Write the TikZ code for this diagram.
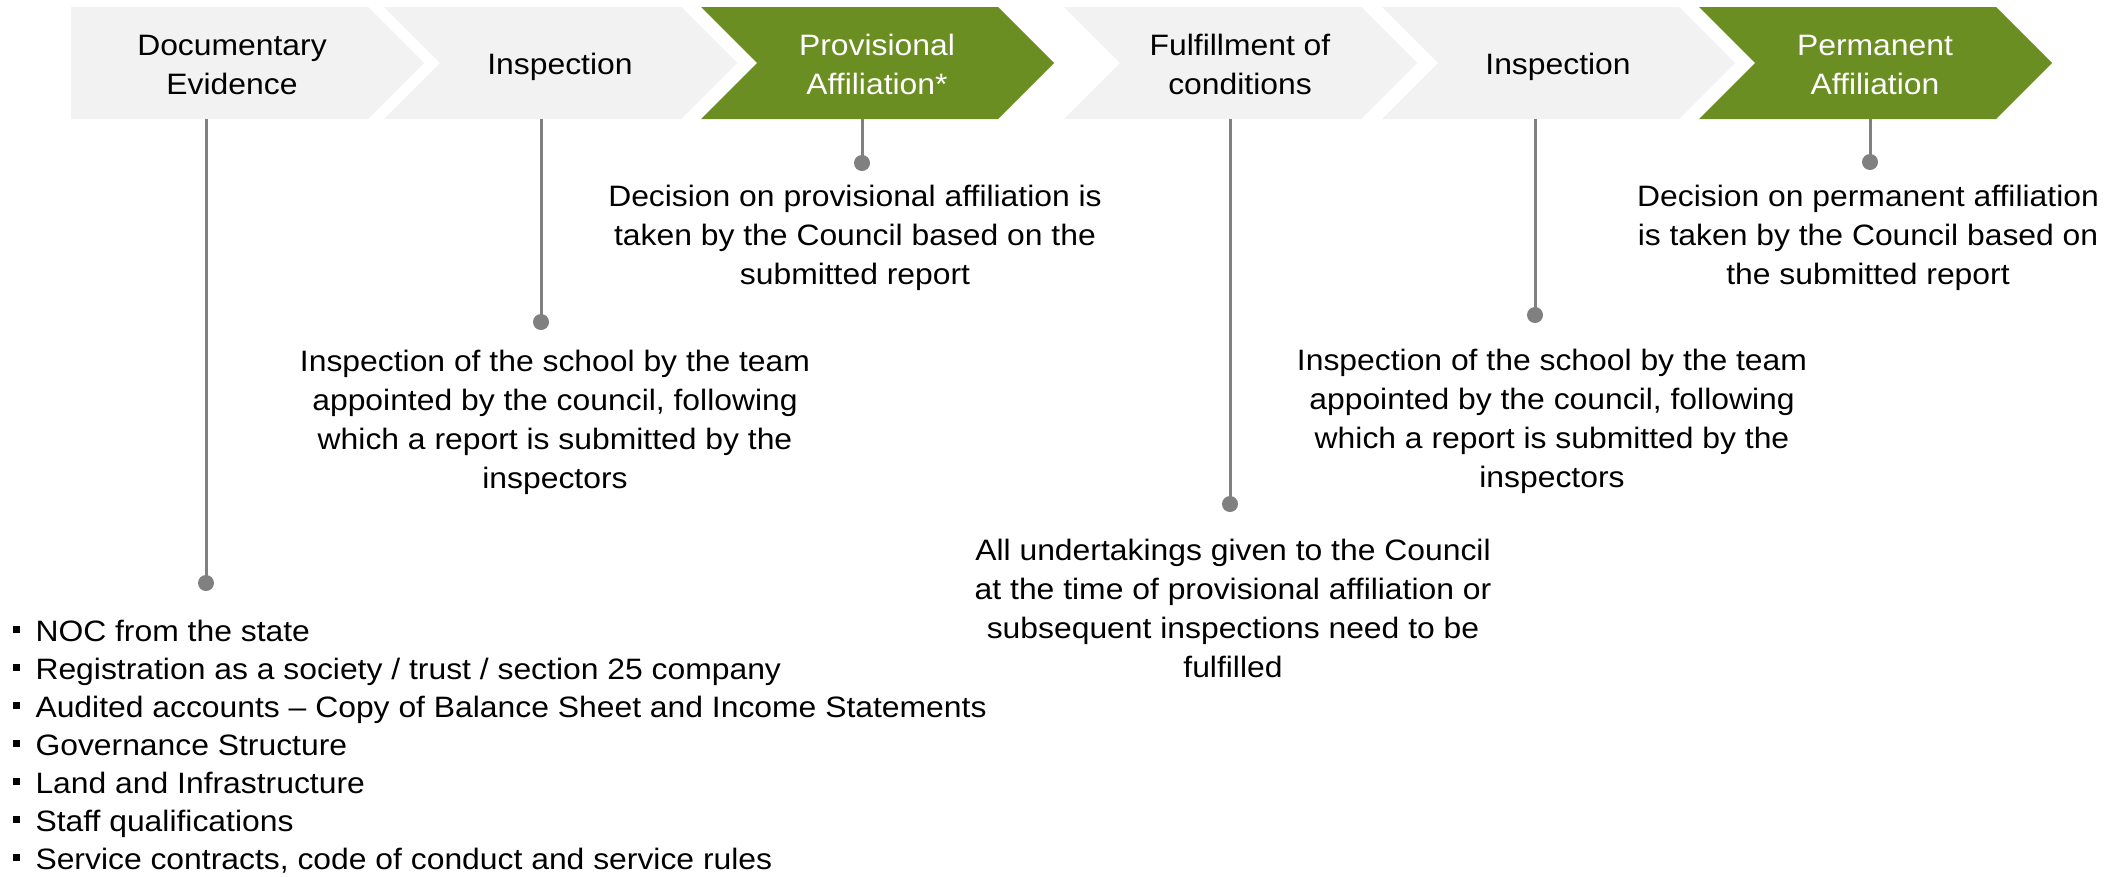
\documentclass[tikz,border=0pt]{standalone}
\usepackage{fontspec}
\setmainfont{Liberation Sans}[FakeStretch=1.08,Ligatures=CommonOff]
\definecolor{chgray}{HTML}{F2F2F2}
\definecolor{chgreen}{HTML}{6B8E23}
\definecolor{lngray}{HTML}{808080}
\tikzset{
  txt/.style={font=\fontsize{29.5}{38.7}\selectfont, inner sep=0pt, align=center, anchor=base},
  chtxt/.style={txt, text=black},
  chwtxt/.style={txt, text=white},
  bul/.style={font=\fontsize{29.5}{38}\selectfont, inner sep=0pt, anchor=base west},
  conn/.style={draw=lngray, line width=3pt},
  dot/.style={circle, fill=lngray, minimum size=16pt, inner sep=0pt},
  grayfill/.style={fill=chgray},
  greenfill/.style={fill=chgreen},
}
\newcommand{\bsq}{\rule[8.4pt]{6.7pt}{6.7pt}\hspace{15.6pt}}
\begin{document}
\begin{tikzpicture}[x=1pt,y=-1pt]
\useasboundingbox[fill=white] (0,0) rectangle (2123,876);
% chevrons
\fill[grayfill] (71,7) -- (368,7) -- (424,63) -- (368,119) -- (71,119) -- cycle;
\fill[grayfill] (384,7) -- (681,7) -- (737,63) -- (681,119) -- (384,119) -- (440,63) -- cycle;
\fill[greenfill] (701,7) -- (998,7) -- (1054,63) -- (998,119) -- (701,119) -- (757,63) -- cycle;
\fill[grayfill] (1064,7) -- (1361,7) -- (1417,63) -- (1361,119) -- (1064,119) -- (1120,63) -- cycle;
\fill[grayfill] (1382,7) -- (1679,7) -- (1735,63) -- (1679,119) -- (1382,119) -- (1438,63) -- cycle;
\fill[greenfill] (1699,7) -- (1996,7) -- (2052,63) -- (1996,119) -- (1699,119) -- (1755,63) -- cycle;
% chevron labels (base = last line baseline)
\node[chtxt] (t1) at (232,94) {Documentary\\Evidence};
\node[chtxt] (t2) at (560,74) {Inspection};
\node[chwtxt] (t3) at (877,94) {Provisional\\Affiliation*};
\node[chtxt] (t4) at (1240,94) {Fulfillment of\\conditions};
\node[chtxt] (t5) at (1558,74) {Inspection};
\node[chwtxt] (t6) at (1875,94) {Permanent\\Affiliation};
% connector start points (chevron bottoms)
\coordinate (b1) at (206,119);
\coordinate (b2) at (541,119);
\coordinate (b3) at (862,119);
\coordinate (b4) at (1230,119);
\coordinate (b5) at (1535,119);
\coordinate (b6) at (1870,119);
% dots
\node[dot] (d1) at (206,583) {};
\node[dot] (d2) at (541,322) {};
\node[dot] (d3) at (862,163) {};
\node[dot] (d4) at (1230,504) {};
\node[dot] (d5) at (1535,315) {};
\node[dot] (d6) at (1870,162) {};
\foreach \i in {1,...,6} { \draw[conn] (b\i) -- (d\i.center); }
% descriptions (base = last line baseline)
\node[txt] (x2) at (555,488) {Inspection of the school by the team\\appointed by the council, following\\which a report is submitted by the\\inspectors};
\node[txt] (x3) at (855,284) {Decision on provisional affiliation is\\taken by the Council based on the\\submitted report};
\node[txt] (x4) at (1233,677) {All undertakings given to the Council\\at the time of provisional affiliation or\\subsequent inspections need to be\\fulfilled};
\node[txt] (x5) at (1552,487) {Inspection of the school by the team\\appointed by the council, following\\which a report is submitted by the\\inspectors};
\node[txt] (x6) at (1868,284) {Decision on permanent affiliation\\is taken by the Council based on\\the submitted report};
% bullet list
\node[bul] (l1) at (13,641) {\bsq NOC from the state};
\node[bul] (l2) at (13,679) {\bsq Registration as a society / trust / section 25 company};
\node[bul] (l3) at (13,717) {\bsq Audited accounts – Copy of Balance Sheet and Income Statements};
\node[bul] (l4) at (13,755) {\bsq Governance Structure};
\node[bul] (l5) at (13,793) {\bsq Land and Infrastructure};
\node[bul] (l6) at (13,831) {\bsq Staff qualifications};
\node[bul] (l7) at (13,869) {\bsq Service contracts, code of conduct and service rules};
\end{tikzpicture}
\end{document}
